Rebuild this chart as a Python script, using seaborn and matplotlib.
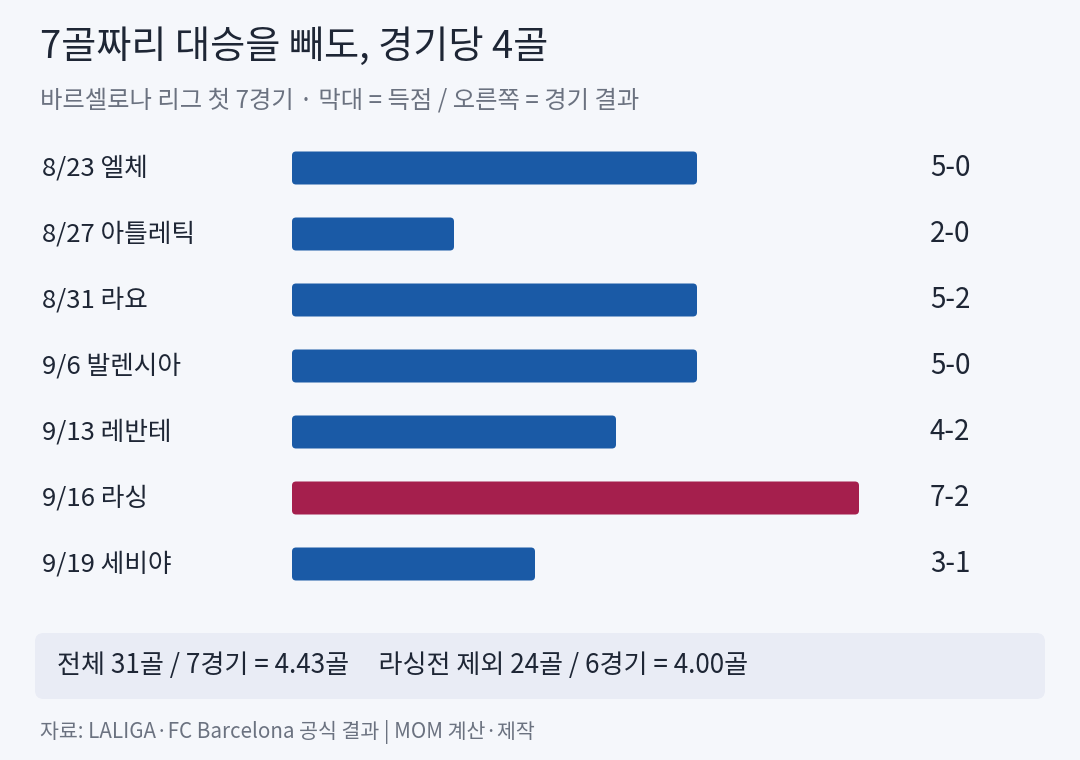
import matplotlib
matplotlib.use("Agg")
import matplotlib.pyplot as plt
import matplotlib.transforms as mtransforms
import seaborn as sns
import pandas as pd
from matplotlib.patches import FancyBboxPatch

# Data
matches = ["8/23 엘체", "8/27 아틀레틱", "8/31 라요", "9/6 발렌시아",
           "9/13 레반테", "9/16 라싱", "9/19 세비야"]
goals = [5, 2, 5, 5, 4, 7, 3]
results = ["5-0", "2-0", "5-2", "5-0", "4-2", "7-2", "3-1"]
highlight = "9/16 라싱"

BG = "#F5F7FB"
BLUE = "#1A5AA6"
RED = "#A51F4D"
DARK = "#1E2635"
GREY = "#6B7280"

sns.set_theme(style="white")
plt.rcParams['font.family'] = ['Noto Sans CJK KR', 'DejaVu Sans']

W, H = 1080, 760
fig = plt.figure(figsize=(W / 100, H / 100), dpi=100)
fig.patch.set_facecolor(BG)

# bar area: x from 292px to 859px (0..7 goals), rows 135px..597px
ax = fig.add_axes([292 / W, 1 - 597 / H, (859 - 292) / W, 462 / H])
ax.set_facecolor(BG)

df = pd.DataFrame({"match": matches, "goals": goals})
palette = {m: (RED if m == highlight else BLUE) for m in matches}
sns.barplot(data=df, y="match", x="goals", hue="match", palette=palette,
            order=matches, width=0.5, saturation=1, legend=False, ax=ax)
ax.set_xlim(0, 7)
ax.set_ylim(6.5, -0.5)

# swap in rounded bars
for bar in list(ax.patches):
    rp = FancyBboxPatch((bar.get_x(), bar.get_y()), bar.get_width(), bar.get_height(),
                        boxstyle="round,pad=0,rounding_size=0.05",
                        mutation_aspect=81 / 66,
                        facecolor=bar.get_facecolor(), edgecolor="none")
    bar.set_visible(False)
    ax.add_patch(rp)

ax.axis("off")

# row labels and scores (x in figure coords, y in data rows)
trans = mtransforms.blended_transform_factory(fig.transFigure, ax.transData)
for i, (m, r) in enumerate(zip(matches, results)):
    ax.text(42 / W, i, m, transform=trans, fontsize=18.5,
            color=DARK, va="center", ha="left")
    ax.text(930 / W, i, r, transform=trans, fontsize=20,
            color=DARK, va="center", ha="left")

# title & subtitle
fig.text(40 / W, 1 - 47 / H, "7골짜리 대승을 빼도, 경기당 4골", fontsize=27.5,
         color=DARK, va="center", ha="left")
fig.text(40 / W, 1 - 100 / H, "바르셀로나 리그 첫 7경기 · 막대 = 득점 / 오른쪽 = 경기 결과",
         fontsize=17.5, color=GREY, va="center", ha="left")

# summary box
box = FancyBboxPatch((35 / W, 1 - 699 / H), (1045 - 35) / W, 66 / H,
                     boxstyle="round,pad=0,rounding_size=0.008",
                     mutation_aspect=W / H,
                     transform=fig.transFigure, facecolor="#E9ECF5",
                     edgecolor="none")
fig.patches.append(box)
fig.text(57 / W, 1 - 666 / H,
         "전체 31골 / 7경기 = 4.43골     라싱전 제외 24골 / 6경기 = 4.00골",
         fontsize=18.8, color=DARK, va="center", ha="left")

# footer
fig.text(40 / W, 1 - 732 / H, "자료: LALIGA·FC Barcelona 공식 결과 | MOM 계산·제작",
         fontsize=14.8, color=GREY, va="center", ha="left")

fig.savefig("out.png", dpi=100, facecolor=BG)
